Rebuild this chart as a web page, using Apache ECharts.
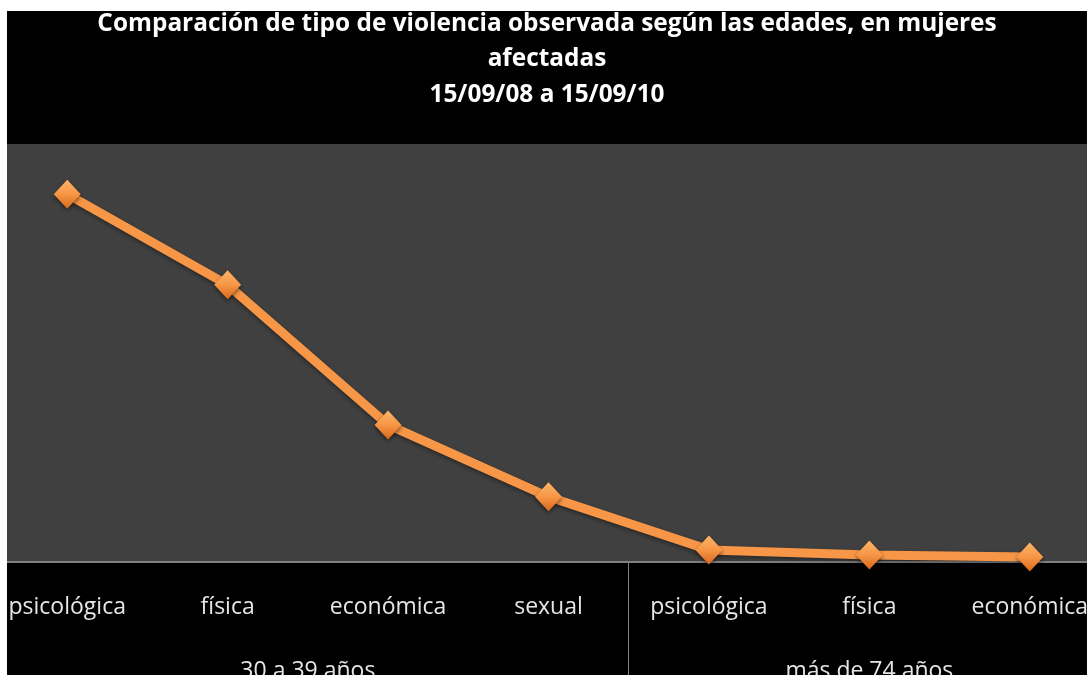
<!DOCTYPE html>
<html>
<head>
<meta charset="utf-8">
<script src="https://cdn.jsdelivr.net/npm/echarts@6/dist/echarts.min.js"></script>
<style>
  html, body { margin: 0; padding: 0; background: #fff; overflow: hidden; }
  #chart { position: absolute; left: 7px; top: 11px; width: 1080px; height: 664px; }
</style>
</head>
<body>
<div id="chart"></div>
<script>
// datos
const categories = ['psicológica', 'física', 'económica', 'sexual', 'psicológica', 'física', 'económica'];
const values = [88.0, 66.3, 32.8, 15.6, 2.9, 1.7, 1.2];
const groupNames = ['30 a 39 años', 'más de 74 años'];
const groupCenters = [1.5, 5];
const groupSeparators = [3.5];

const myChart = echarts.init(document.getElementById('chart'));

const option = {
  backgroundColor: '#000',
  animation: false,
  title: {
    text: 'Comparación de tipo de violencia observada según las edades, en mujeres\nafectadas\n15/09/08 a 15/09/10',
    left: 'center',
    top: -10,
    textStyle: {
      color: '#fff',
      fontFamily: 'Open Sans',
      fontWeight: 'bold',
      fontSize: 24.4,
      lineHeight: 35.5
    }
  },
  grid: {
    left: -20,
    width: 1123,
    top: 133,
    height: 418,
    outerBoundsMode: 'none',
    containLabel: false,
    show: true,
    backgroundColor: '#404040',
    borderWidth: 0
  },
  xAxis: [
    {
      type: 'category',
      data: categories,
      position: 'bottom',
      axisLine: {lineStyle: {color: '#7f7f7f', width: 2}},
      axisTick: {show: false},
      axisLabel: {
        color: '#e6e6e6',
        fontFamily: 'Open Sans',
        fontSize: 23,
        margin: 34
      }
    },
    {
      type: 'value',
      min: -0.5,
      max: 6.5,
      position: 'bottom',
      axisLine: {show: false},
      splitLine: {show: false},
      axisTick: {
        show: true,
        customValues: groupSeparators,
        length: 120,
        lineStyle: {color: '#7f7f7f', width: 1}
      },
      axisLabel: {
        customValues: groupCenters,
        color: '#e6e6e6',
        fontFamily: 'Open Sans',
        fontSize: 23,
        margin: 98,
        formatter: (v) => groupNames[groupCenters.indexOf(v)]
      }
    }
  ],
  yAxis: {
    type: 'value',
    min: 0,
    max: 100,
    show: false,
    splitLine: {show: false}
  },
  series: [
    {
      type: 'line',
      data: values,
      symbol: 'diamond',
      symbolSize: [27, 29],
      lineStyle: {
        color: '#f79646',
        width: 9,
        shadowColor: 'rgba(0,0,0,0.4)',
        shadowBlur: 4,
        shadowOffsetY: 2
      },
      itemStyle: {
        color: new echarts.graphic.LinearGradient(0, 0, 0, 1, [
          {offset: 0, color: '#fdb56a'},
          {offset: 0.5, color: '#f79646'},
          {offset: 1, color: '#d9681a'}
        ]),
        shadowColor: 'rgba(0,0,0,0.5)',
        shadowBlur: 4,
        shadowOffsetY: 2
      },
      z: 3
    }
  ]
};

option && myChart.setOption(option);
</script>
</body>
</html>
